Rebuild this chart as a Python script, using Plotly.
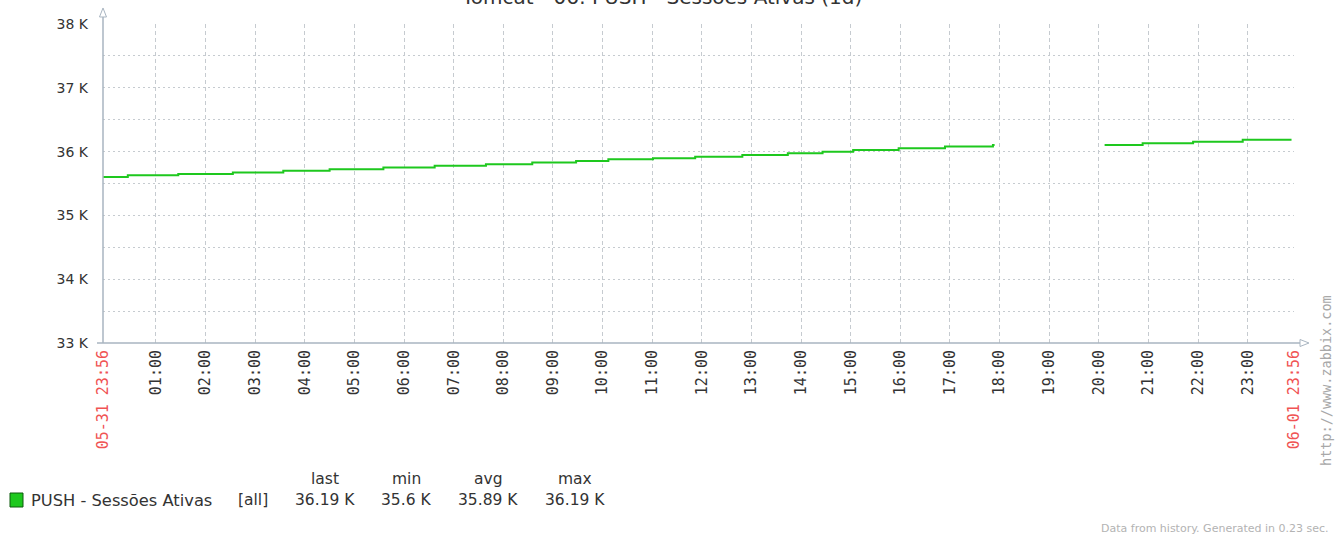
import plotly.graph_objects as go

# ---------------- data ----------------
times = [
    "2024-05-31 23:56", "2024-06-01 00:26", "2024-06-01 01:27", "2024-06-01 02:33",
    "2024-06-01 03:34", "2024-06-01 04:30", "2024-06-01 05:35", "2024-06-01 06:37",
    "2024-06-01 07:39", "2024-06-01 08:35", "2024-06-01 09:28", "2024-06-01 10:07",
    "2024-06-01 11:01", "2024-06-01 11:52", "2024-06-01 12:49", "2024-06-01 13:44",
    "2024-06-01 14:26", "2024-06-01 15:03", "2024-06-01 15:58", "2024-06-01 16:54",
    "2024-06-01 17:52", "2024-06-01 17:54", None,
    "2024-06-01 20:07", "2024-06-01 20:53", "2024-06-01 21:54", "2024-06-01 22:54",
    "2024-06-01 23:53",
]
sessions = [
    35600, 35628, 35650, 35672,
    35698, 35725, 35752, 35778,
    35802, 35830, 35853, 35879,
    35895, 35920, 35947, 35973,
    35998, 36025, 36052, 36080,
    36105, 36105, None,
    36105, 36130, 36155, 36185,
    36185,
]

x_start = "2024-05-31 23:56"
x_end = "2024-06-01 23:56"
hour_ticks = ["2024-06-01 %02d:00" % h for h in range(1, 24)]
hour_labels = ["%02d:00" % h for h in range(1, 24)]
start_label = "05-31 23:56"
end_label = "06-01 23:56"

y_ticks = [33000, 33500, 34000, 34500, 35000, 35500, 36000, 36500, 37000, 37500, 38000]
y_labels = ["33 K", "", "34 K", "", "35 K", "", "36 K", "", "37 K", "", "38 K"]

title_text = "Tomcat - 06: PUSH - Sessões Ativas (1d)"
series_name = "PUSH - Sessões Ativas"
stats_labels = ["last", "min", "avg", "max"]
stats_values = ["36.19 K", "35.6 K", "35.89 K", "36.19 K"]

# ---------------- layout helpers ----------------
W, H = 1335, 535
L, R, T, B = 103, 1294, 24, 343


def px(x):
    return (x - L) / (R - L)


def py(y):
    return (B - y) / (B - T)


AXIS = "#a9b5c1"
GRID = "#c6cbd0"
RED = "#f05353"
TXT = "#333333"
GREEN = "#1ec81e"
LEG_FONT = dict(family="DejaVu Sans", size=15.5, color=TXT)

fig = go.Figure()
fig.add_trace(go.Scatter(
    x=times, y=sessions, mode="lines", line=dict(color=GREEN, width=2, shape="hv"),
    connectgaps=False, showlegend=False, hoverinfo="skip",
))

tickvals = [x_start] + hour_ticks + [x_end]
ticktext = ['<span style="color:%s">%s</span>' % (RED, start_label)] + hour_labels + \
           ['<span style="color:%s">%s</span>' % (RED, end_label)]

fig.update_layout(
    width=W, height=H,
    margin=dict(l=L, r=W - R, t=T, b=H - B),
    paper_bgcolor="white", plot_bgcolor="white",
    showlegend=False,
    xaxis=dict(
        type="date", range=[x_start, x_end],
        tickmode="array", tickvals=tickvals, ticktext=ticktext,
        tickangle=-90, tickfont=dict(family="DejaVu Sans Mono", size=15, color=TXT),
        showgrid=True, gridcolor=GRID, griddash="4px,3px", gridwidth=1,
        showline=False, zeroline=False, ticks="", ticklabelstandoff=3, fixedrange=True,
    ),
    yaxis=dict(
        range=[33000, 38000], tickmode="array", tickvals=y_ticks, ticktext=y_labels,
        tickfont=dict(family="DejaVu Sans", size=14, color=TXT),
        showgrid=True, gridcolor=GRID, griddash="2px,3px", gridwidth=1,
        showline=False, zeroline=False, ticks="", ticklabelstandoff=14, fixedrange=True,
    ),
)

shapes = []
# y axis line + arrow
shapes.append(dict(type="line", xref="paper", yref="paper", x0=0, x1=0, y0=py(B), y1=py(16),
                   line=dict(color=AXIS, width=1.5)))
shapes.append(dict(type="path", xref="paper", yref="paper",
                   path="M %f %f L %f %f L %f %f Z" % (px(99.5), py(17), px(106.5), py(17), px(103), py(8)),
                   line=dict(color=AXIS, width=1), fillcolor="white"))
# x axis line + arrow
shapes.append(dict(type="line", xref="paper", yref="paper", x0=px(97), x1=px(1300), y0=0, y1=0,
                   line=dict(color=AXIS, width=1.5)))
shapes.append(dict(type="path", xref="paper", yref="paper",
                   path="M %f %f L %f %f L %f %f Z" % (px(1300), py(339.5), px(1300), py(346.5), px(1309), py(343)),
                   line=dict(color=AXIS, width=1), fillcolor="white"))
# legend swatch
shapes.append(dict(type="rect", xref="paper", yref="paper", x0=px(10), x1=px(23), y0=py(507), y1=py(493),
                   line=dict(color="#0d5a0d", width=1), fillcolor=GREEN))
fig.update_layout(shapes=shapes)

ann = []
ann.append(dict(text=title_text, xref="paper", yref="paper", x=px(661), y=py(-3),
                xanchor="center", yanchor="middle", showarrow=False,
                font=dict(family="DejaVu Sans", size=20, color=TXT)))
ann.append(dict(text=series_name, xref="paper", yref="paper", x=px(29), y=py(500),
                xanchor="left", yanchor="middle", showarrow=False,
                font=dict(family="DejaVu Sans", size=16.3, color=TXT)))
ann.append(dict(text="[all]", xref="paper", yref="paper", x=px(236), y=py(500),
                xanchor="left", yanchor="middle", showarrow=False, font=LEG_FONT))
stat_x = [325, 406, 488, 575]
for lab, val, sx in zip(stats_labels, stats_values, stat_x):
    ann.append(dict(text=lab, xref="paper", yref="paper", x=px(sx), y=py(479),
                    xanchor="center", yanchor="middle", showarrow=False, font=LEG_FONT))
    ann.append(dict(text=val, xref="paper", yref="paper", x=px(sx), y=py(500),
                    xanchor="center", yanchor="middle", showarrow=False, font=LEG_FONT))
ann.append(dict(text="http://www.zabbix.com", xref="paper", yref="paper", x=px(1326), y=py(381),
                xanchor="center", yanchor="middle", textangle=-90, showarrow=False,
                font=dict(family="DejaVu Sans Mono", size=13.5, color="#a8a8a8")))
ann.append(dict(text="Data from history. Generated in 0.23 sec.", xref="paper", yref="paper",
                x=px(1331), y=py(528), xanchor="right", yanchor="middle", showarrow=False,
                font=dict(family="DejaVu Sans", size=11, color="#b3b3b3")))
fig.update_layout(annotations=ann)

fig.write_html(
    "out.html",
    config={"displayModeBar": False},
    post_script="document.body.style.margin='0';document.body.style.padding='0';document.body.style.overflow='hidden';",
)
